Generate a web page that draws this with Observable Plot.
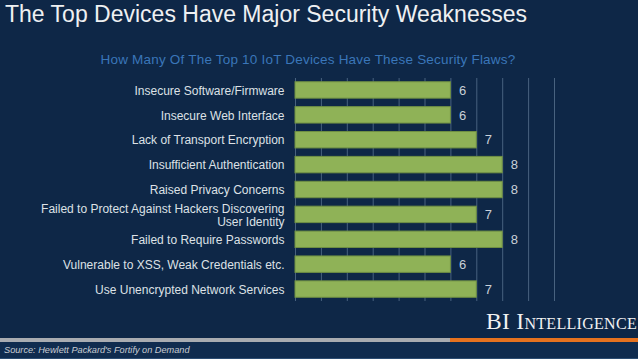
<!DOCTYPE html>
<html>
<head>
<meta charset="utf-8">
<script src="https://cdn.jsdelivr.net/npm/d3@7"></script>
<script src="https://cdn.jsdelivr.net/npm/@observablehq/plot@0.6"></script>
<style>
  html, body { margin: 0; padding: 0; background: #0e2747; }
  #wrap { position: relative; width: 638px; height: 359px; overflow: hidden; background: #0e2747; font-family: "Liberation Sans", Arial, sans-serif; }
  #chart { position: absolute; left: 0; top: 0; }
  .abs { position: absolute; white-space: nowrap; }
  #title { left: 5px; top: 1px; font-size: 23px; color: #eef0f2; line-height: 26px; }
  #subtitle { left: 0; width: 616px; text-align: center; top: 52px; font-size: 13.5px; color: #3a76b9; line-height: 16px; letter-spacing: 0.2px; }
  #brand { right: 1px; top: 308px; font-family: "Liberation Serif", "DejaVu Serif", serif; font-variant: small-caps; font-size: 23.5px; color: #f2f2f2; line-height: 26px; letter-spacing: 0.3px; }
  #grayline { left: 0; top: 338px; width: 450px; height: 4px; background: #a9acb1; }
  #orangeline { left: 450px; top: 338px; width: 188px; height: 4px; background: #e6721f; }
  #srcband { left: 0; top: 342px; width: 638px; height: 17px; background: #102c4f; border-bottom: 1px solid #2c4d73; box-sizing: border-box; }
  #source { left: 4px; top: 344px; font-size: 9.2px; font-style: italic; color: #c9cdd3; line-height: 13px; }
</style>
</head>
<body>
<div id="wrap">
  <div id="chart"></div>
  <div class="abs" id="title">The Top Devices Have Major Security Weaknesses</div>
  <div class="abs" id="subtitle">How Many Of The Top 10 IoT Devices Have These Security Flaws?</div>
  <div class="abs" id="brand">BI Intelligence</div>
  <div class="abs" id="grayline"></div>
  <div class="abs" id="orangeline"></div>
  <div class="abs" id="srcband"></div>
  <div class="abs" id="source">Source: Hewlett Packard's Fortify on Demand</div>
</div>
<script>
const categories = [
  "Insecure Software/Firmware",
  "Insecure Web Interface",
  "Lack of Transport Encryption",
  "Insufficient Authentication",
  "Raised Privacy Concerns",
  "Failed to Protect Against Hackers Discovering\nUser Identity",
  "Failed to Require Passwords",
  "Vulnerable to XSS, Weak Credentials etc.",
  "Use Unencrypted Network Services"
];
const values = [6, 6, 7, 8, 8, 7, 8, 6, 7];
const gridTicks = [0, 1, 2, 3, 4, 5, 6, 7, 8, 9, 10];

const data = categories.map((c, i) => ({category: c, value: values[i]}));

const chart = Plot.plot({
  width: 638,
  height: 359,
  marginTop: 78,
  marginBottom: 58,
  marginLeft: 295,
  marginRight: 84,
  style: {background: "transparent", fontFamily: "Liberation Sans, Arial, sans-serif"},
  x: {domain: [0, 10], axis: null},
  y: {domain: categories, axis: null, paddingInner: 0.34, paddingOuter: 0.15, round: false},
  marks: [
    Plot.ruleX(gridTicks, {x: d => d, stroke: "#48627f", strokeWidth: 1}),
    Plot.barX(data, {x: "value", y: "category", fill: "#8fb257", stroke: "#6f8f44", strokeWidth: 1}),
    Plot.text(data, {x: "value", y: "category", text: d => String(d.value), dx: 8, textAnchor: "start", fill: "#c9d0d8", fontSize: 13}),
    Plot.text(data, {x: 0, y: "category", text: "category", dx: -11, textAnchor: "end", fill: "#dde1e6", fontSize: 12, lineHeight: 1.1})
  ]
});
document.getElementById("chart").appendChild(chart);
</script>
</body>
</html>
